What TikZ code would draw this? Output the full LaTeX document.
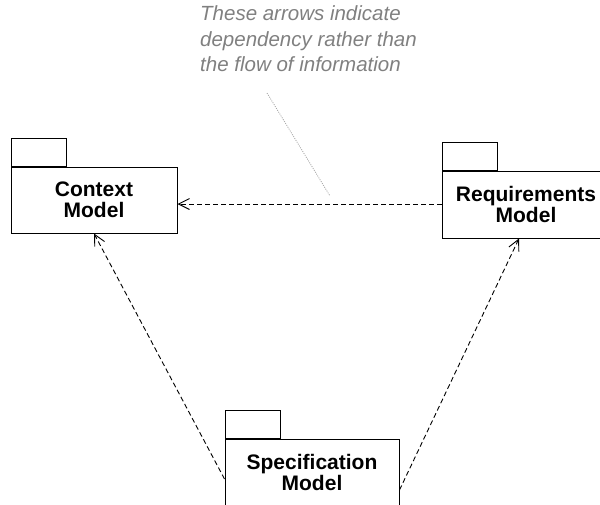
\documentclass[tikz,border=0pt]{standalone}
\usepackage{fontspec}
\setmainfont{Liberation Sans}
\usetikzlibrary{arrows.meta}
\definecolor{notegray}{RGB}{128,128,128}
\definecolor{leadergray}{RGB}{165,165,165}
\begin{document}
\begin{tikzpicture}[x=1pt, y=-1pt,
    pkg/.style={draw, line width=1pt, fill=white, align=center, inner sep=0pt,
      font=\fontsize{21}{21}\selectfont\bfseries},
    pkgtab/.style={draw, line width=1pt, fill=white, minimum width=55pt,
      minimum height=28pt, inner sep=0pt, anchor=south west},
    dep/.style={line width=0.9pt, dash pattern=on 5pt off 3pt,
      -{Straight Barb[length=11pt, width=11pt, line width=0.9pt]}},
    notetext/.style={text=notegray, align=left, inner sep=0pt, anchor=north west,
      font=\fontsize{20.5}{25.5}\selectfont\itshape}]

  \useasboundingbox (0, 0) rectangle (600, 504);

  % packages
  \node[pkg, minimum width=166pt, minimum height=66pt] (ctx) at (94, 200) {Context\\Model};
  \node[pkgtab] (ctxtab) at (ctx.north west) {};

  \node[pkg, minimum width=168pt, minimum height=67pt] (req) at (526, 204.5) {Requirements\\Model};
  \node[pkgtab] (reqtab) at (req.north west) {};

  \node[pkg, minimum width=174pt, minimum height=67pt] (spec) at (312, 472.5) {Specification\\Model};
  \node[pkgtab] (spectab) at (spec.north west) {};

  % dependencies
  \draw[dep] (req.west |- 0, 204) coordinate (reqout) -- (ctx.east |- reqout);
  \draw[dep] ([yshift=-6.5pt]spec.west) -- (ctx.south);
  \draw[dep] ([yshift=-17.5pt]spec.east) -- ([xshift=-7pt]req.south);

  % note
  \node[notetext] (note) at (200, 5.5) {These arrows indicate\\dependency rather than\\the flow of information};
  \coordinate (notefoot) at (267, 93);
  \coordinate (notetip) at (330, 196);
  \draw[leadergray, line width=0.8pt, dash pattern=on 1pt off 1.2pt] (notefoot) -- (notetip);

\end{tikzpicture}
\end{document}
